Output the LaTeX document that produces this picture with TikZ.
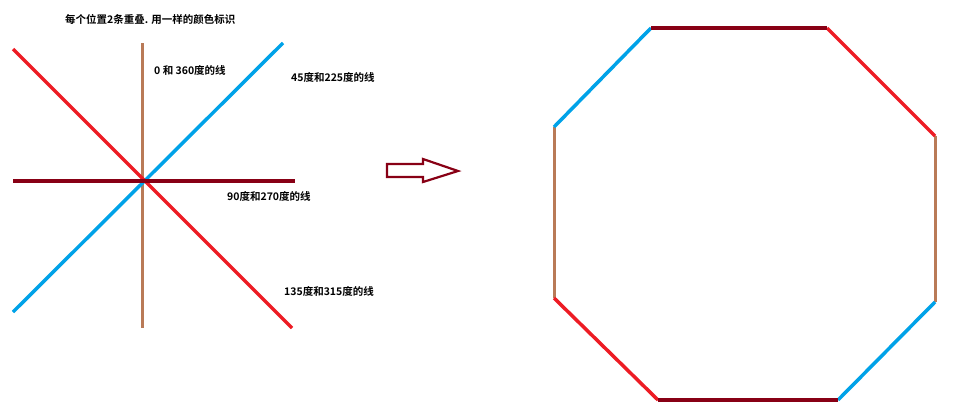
\documentclass[tikz,border=0pt]{standalone}
\usepackage{fontspec}
\newfontfamily\cjk{Noto Sans CJK SC}[BoldFont={Noto Sans CJK SC Bold}]
\definecolor{pred}{HTML}{ED1C24}
\definecolor{pblue}{HTML}{00A2E8}
\definecolor{pbrown}{HTML}{B97A57}
\definecolor{pdark}{HTML}{880015}
\begin{document}
\begin{tikzpicture}[x=1pt,y=-1pt,
  lbl/.style={anchor=west,inner sep=0pt,font=\cjk\bfseries\fontsize{10.5}{12}\selectfont},
  redl/.style={draw=pred,line width=3.5pt},
  bluel/.style={draw=pblue,line width=3.5pt},
  brownl/.style={draw=pbrown,line width=3pt},
  darkl/.style={draw=pdark,line width=3.5pt},
  bigarrow/.style={draw=pdark,line width=2.2pt,fill=white,line join=miter}]
\useasboundingbox (0,0) rectangle (972,415);
% star lines
\coordinate (r1) at (13,49);   \coordinate (r2) at (292,328);
\coordinate (b1) at (283,43);  \coordinate (b2) at (13,312);
\coordinate (v1) at (142,43);  \coordinate (v2) at (142,328);
\coordinate (h1) at (13,181);  \coordinate (h2) at (295,181);
\draw[brownl] (v1) -- (v2);
\draw[bluel] (b1) -- (b2);
\draw[redl] (r1) -- (r2);
\draw[darkl] (h1) -- (h2);
% labels
\node[lbl] (title) at (65,19) {每个位置2条重叠. 用一样的颜色标识};
\node[lbl] (l0) at (154,70) {0 和 360度的线};
\node[lbl] (l45) at (291,77) {45度和225度的线};
\node[lbl] (l90) at (227,196) {90度和270度的线};
\node[lbl] (l135) at (284,291) {135度和315度的线};
% arrow
\draw[bigarrow] (387,164) -- (423,164) -- (423,159) -- (458,171) -- (423,182) -- (423,177) -- (387,177) -- cycle;
% octagon
\coordinate (o1) at (651,28);
\coordinate (o2) at (827,28);
\coordinate (o3) at (935,136);
\coordinate (o4) at (935,302);
\coordinate (o5) at (838,400);
\coordinate (o6) at (658,400);
\coordinate (o7) at (554,298);
\coordinate (o8) at (554,127);
\draw[brownl] (o3) -- (o4);
\draw[brownl] (o7) -- (o8);
\draw[bluel] (o8) -- (o1);
\draw[bluel] (o4) -- (o5);
\draw[redl] (o2) -- (o3);
\draw[redl] (o6) -- (o7);
\draw[darkl] (o1) -- (o2);
\draw[darkl] (o5) -- (o6);
\end{tikzpicture}
\end{document}
